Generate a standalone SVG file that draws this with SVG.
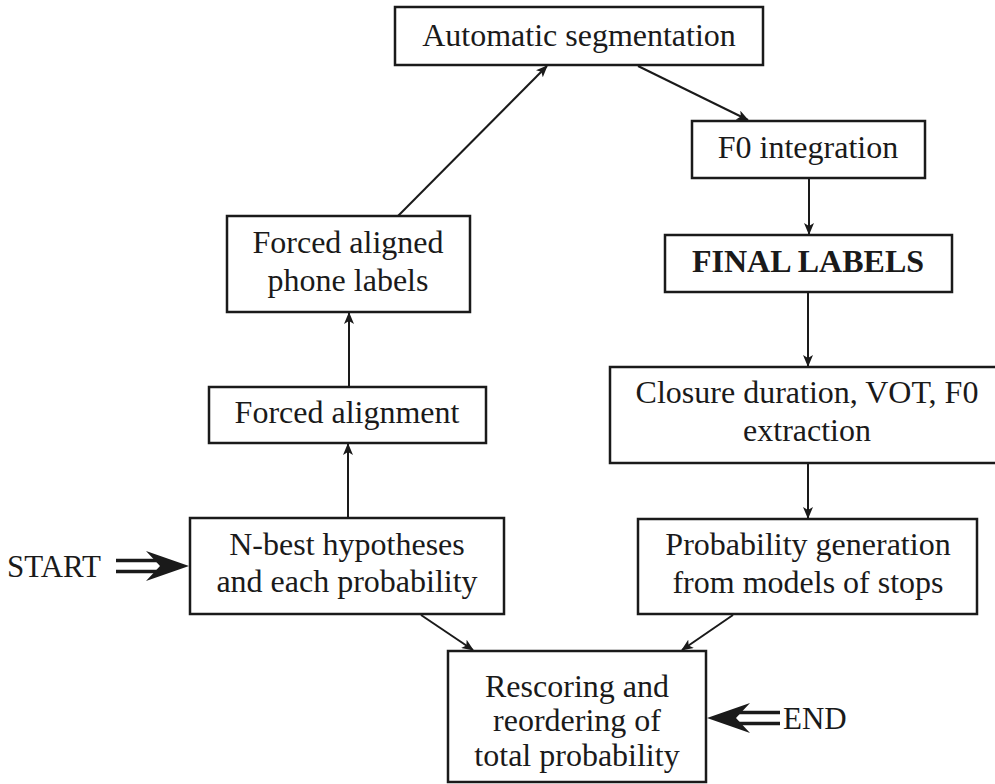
<svg xmlns="http://www.w3.org/2000/svg" width="995" height="784" viewBox="0 0 995 784">
  <defs>
    <style>
      .box { fill: #ffffff; stroke: #1a1a1a; stroke-width: 2.5; }
      .lbl { font-family: 'Liberation Serif', Tinos, 'Times New Roman', Times, 'DejaVu Serif', serif; font-size: 32px; fill: #1a1a1a; text-anchor: middle; }
      .bold { font-weight: bold; }
      .term { font-family: 'Liberation Serif', Tinos, 'Times New Roman', Times, 'DejaVu Serif', serif; font-size: 31px; fill: #1a1a1a; }
      .edge { stroke: #1a1a1a; stroke-width: 2; fill: none; marker-end: url(#head); }
      .dbl { stroke: #1a1a1a; stroke-width: 3.5; fill: none; }
    </style>
    <marker id="head" viewBox="0 0 12 10" refX="11" refY="5" markerWidth="12" markerHeight="10" markerUnits="userSpaceOnUse" orient="auto">
      <path d="M0,0 L12,5 L0,10 L3,5 Z" fill="#1a1a1a"/>
    </marker>
  </defs>

  <rect width="995" height="784" fill="#ffffff"/>

  <!-- connectors -->
  <g id="connectors">
    <line class="edge" x1="398" y1="216" x2="547" y2="66"/>
    <line class="edge" x1="638" y1="66" x2="748" y2="120"/>
    <line class="edge" x1="809" y1="179" x2="809" y2="234"/>
    <line class="edge" x1="808" y1="293" x2="808" y2="366"/>
    <line class="edge" x1="808" y1="464" x2="808" y2="518"/>
    <line class="edge" x1="348" y1="518" x2="348" y2="444"/>
    <line class="edge" x1="349" y1="386" x2="349" y2="313"/>
    <line class="edge" x1="421" y1="615" x2="473" y2="650"/>
    <line class="edge" x1="733" y1="615" x2="682" y2="650"/>

    <!-- START double arrow -->
    <g id="start-arrow">
      <line class="dbl" x1="116" y1="560.5" x2="165" y2="560.5"/>
      <line class="dbl" x1="116" y1="571.5" x2="165" y2="571.5"/>
      <path d="M189,566 L146,551 L160,566 L146,581 Z" fill="#1a1a1a"/>
    </g>
    <!-- END double arrow -->
    <g id="end-arrow">
      <line class="dbl" x1="780" y1="712.5" x2="730" y2="712.5"/>
      <line class="dbl" x1="780" y1="723.5" x2="730" y2="723.5"/>
      <path d="M707,718 L750,703 L736,718 L750,733 Z" fill="#1a1a1a"/>
    </g>
  </g>

  <!-- nodes -->
  <g id="auto-seg">
    <rect class="box" x="395" y="7" width="368" height="58"/>
    <text class="lbl" x="579" y="46">Automatic segmentation</text>
  </g>

  <g id="f0-integration">
    <rect class="box" x="692" y="121" width="233" height="57"/>
    <text class="lbl" x="808" y="158">F0 integration</text>
  </g>

  <g id="final-labels">
    <rect class="box" x="665" y="235" width="287" height="57"/>
    <text class="lbl bold" x="808" y="272">FINAL LABELS</text>
  </g>

  <g id="closure">
    <rect class="box" x="610" y="367" width="400" height="96"/>
    <text class="lbl" x="807" y="403">Closure duration, VOT, F0</text>
    <text class="lbl" x="807" y="441">extraction</text>
  </g>

  <g id="prob-gen">
    <rect class="box" x="638" y="519" width="339" height="95"/>
    <text class="lbl" x="808" y="555">Probability generation</text>
    <text class="lbl" x="808" y="593">from models of stops</text>
  </g>

  <g id="forced-labels">
    <rect class="box" x="227" y="216" width="243" height="96"/>
    <text class="lbl" x="348" y="253">Forced aligned</text>
    <text class="lbl" x="348" y="291">phone labels</text>
  </g>

  <g id="forced-alignment">
    <rect class="box" x="209" y="387" width="277" height="56"/>
    <text class="lbl" x="347" y="423">Forced alignment</text>
  </g>

  <g id="nbest">
    <rect class="box" x="190" y="518" width="314" height="96"/>
    <text class="lbl" x="347" y="555">N-best hypotheses</text>
    <text class="lbl" x="347" y="592">and each probability</text>
  </g>

  <g id="rescoring">
    <rect class="box" x="448" y="651" width="258" height="131"/>
    <text class="lbl" x="577" y="697">Rescoring and</text>
    <text class="lbl" x="577" y="731">reordering of</text>
    <text class="lbl" x="577" y="766">total probability</text>
  </g>

  <g id="start">
    <text class="term" x="7" y="577">START</text>
  </g>
  <g id="end">
    <text class="term" x="783" y="729">END</text>
  </g>
</svg>
